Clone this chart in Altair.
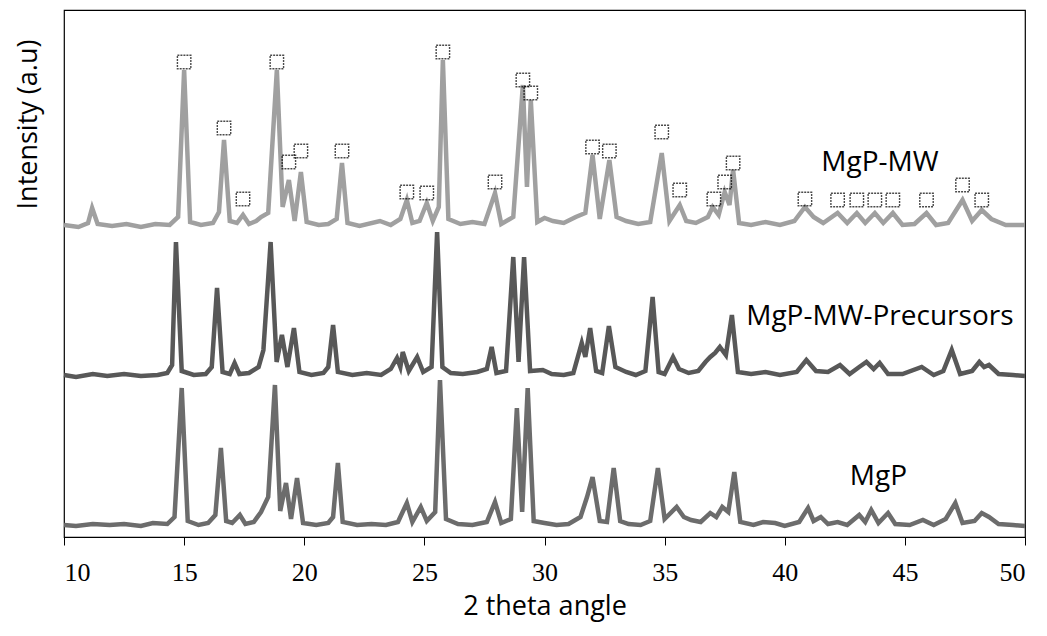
import altair as alt
import pandas as pd

# ---- data (2θ in degrees, intensity above each trace's baseline, a.u.) ----
tt_mw = [10.0, 10.6, 11.0, 11.17, 11.4, 12.0, 12.6, 13.2, 13.8, 14.4, 14.75, 15.0, 15.25, 15.7, 16.2, 16.45,
         16.66, 16.9, 17.2, 17.45, 17.7, 18.0, 18.2, 18.5, 18.86, 19.1, 19.36, 19.6, 19.86, 20.1, 20.6, 21.0,
         21.35, 21.57, 21.8, 22.3, 23.15, 23.6, 24.0, 24.27, 24.5, 24.8, 25.1, 25.35, 25.6, 25.77, 26.0, 26.5,
         27.0, 27.5, 27.94, 28.2, 28.7, 29.1, 29.27, 29.43, 29.7, 30.0, 30.35, 30.8, 31.3, 31.7, 32.0, 32.3,
         32.7, 33.0, 33.4, 33.9, 34.4, 34.88, 35.2, 35.63, 35.9, 36.3, 36.8, 37.0, 37.25, 37.5, 37.7, 37.85,
         38.1, 38.6, 39.2, 39.8, 40.4, 40.84, 41.2, 41.6, 42.2, 42.6, 43.0, 43.35, 43.75, 44.1, 44.5, 44.9,
         45.4, 45.9, 46.3, 46.8, 47.4, 47.8, 48.2, 48.6, 49.2, 50.0]
int_mw = [2, 0, 4, 19, 3, 1, 3, 0, 3, 2, 10, 157, 5, 2, 4, 15,
          87, 6, 4, 12, 3, 6, 10, 14, 157, 20, 47, 6, 55, 5, 2, 3,
          8, 64, 4, 1, 6, 2, 8, 27, 4, 6, 24, 6, 20, 167, 8, 3,
          5, 3, 34, 3, 10, 142, 40, 127, 5, 9, 6, 4, 10, 14, 72, 8,
          67, 10, 6, 3, 5, 74, 6, 22, 6, 4, 10, 20, 12, 35, 22, 57,
          4, 2, 5, 2, 6, 20, 10, 4, 14, 4, 14, 4, 14, 4, 14, 2,
          3, 14, 2, 4, 27, 6, 17, 8, 2, 2]

tt_pre = [10.0, 10.5, 11.2, 11.8, 12.5, 13.2, 13.9, 14.3, 14.5, 14.66, 14.9, 15.4, 15.9, 16.15, 16.37, 16.6,
          16.9, 17.1, 17.3, 17.7, 18.1, 18.3, 18.6, 18.85, 19.07, 19.3, 19.57, 19.8, 20.3, 20.8, 21.0, 21.2,
          21.4, 22.0, 22.6, 23.2, 23.6, 23.86, 24.0, 24.1, 24.35, 24.7, 24.95, 25.3, 25.53, 25.75, 26.1, 26.6,
          27.2, 27.6, 27.8, 28.0, 28.4, 28.7, 28.92, 29.15, 29.4, 29.93, 30.3, 30.8, 31.2, 31.55, 31.7, 31.9,
          32.15, 32.4, 32.68, 32.95, 33.4, 33.8, 34.2, 34.5, 34.75, 35.0, 35.35, 35.6, 36.0, 36.4, 36.7, 36.9,
          37.1, 37.3, 37.55, 37.8, 38.05, 38.6, 39.2, 39.8, 40.5, 40.9, 41.3, 41.8, 42.3, 42.7, 43.1, 43.4,
          43.7, 43.95, 44.3, 44.9, 45.7, 46.2, 46.6, 46.95, 47.3, 47.8, 48.1, 48.3, 48.5, 48.9, 49.5, 50.0]
int_pre = [2, 0, 3, 1, 3, 1, 2, 4, 12, 135, 6, 2, 3, 10, 89, 5,
           3, 14, 3, 4, 10, 27, 135, 15, 42, 10, 49, 5, 2, 4, 10, 52,
           5, 2, 4, 2, 8, 19, 10, 25, 6, 20, 5, 10, 145, 10, 4, 3,
           5, 8, 30, 4, 6, 120, 15, 120, 6, 7, 3, 2, 4, 34, 20, 49,
           6, 4, 51, 10, 5, 2, 6, 80, 5, 3, 20, 8, 4, 6, 15, 20,
           24, 30, 22, 62, 5, 3, 5, 2, 5, 17, 6, 5, 12, 3, 10, 15,
           8, 14, 3, 3, 10, 2, 6, 27, 3, 6, 15, 10, 12, 3, 2, 1]

tt_mgp = [10.0, 10.5, 11.2, 11.9, 12.5, 13.2, 13.7, 14.3, 14.6, 14.9, 15.15, 15.6, 16.0, 16.3, 16.53, 16.75,
          17.0, 17.32, 17.55, 17.9, 18.2, 18.5, 18.78, 19.0, 19.24, 19.45, 19.7, 19.95, 20.5, 21.0, 21.2, 21.4,
          21.6, 22.2, 22.8, 23.4, 23.9, 24.27, 24.5, 24.85, 25.1, 25.45, 25.65, 25.9, 26.4, 27.0, 27.6, 27.94,
          28.2, 28.6, 28.85, 29.07, 29.3, 29.55, 30.0, 30.5, 31.0, 31.5, 31.77, 32.0, 32.3, 32.6, 32.88, 33.15,
          33.5, 34.0, 34.4, 34.72, 35.0, 35.5, 35.8, 36.1, 36.5, 36.9, 37.15, 37.4, 37.65, 37.9, 38.15, 38.7,
          39.1, 39.6, 40.0, 40.6, 40.97, 41.2, 41.5, 41.8, 42.2, 42.6, 43.1, 43.35, 43.6, 43.9, 44.3, 44.6,
          45.2, 45.75, 46.2, 46.7, 47.1, 47.4, 47.9, 48.2, 48.5, 48.9, 49.5, 50.0]
int_mgp = [2, 1, 3, 2, 3, 1, 4, 3, 10, 139, 6, 2, 4, 12, 79, 6,
           4, 12, 3, 5, 15, 30, 142, 16, 44, 8, 49, 4, 2, 4, 10, 64,
           5, 2, 3, 2, 5, 24, 5, 20, 6, 15, 147, 8, 3, 2, 5, 25,
           4, 8, 119, 15, 139, 6, 4, 2, 3, 10, 30, 50, 6, 5, 59, 6,
           3, 2, 6, 59, 8, 20, 10, 7, 5, 14, 10, 20, 15, 55, 5, 2,
           5, 4, 1, 5, 19, 6, 10, 3, 5, 2, 12, 5, 17, 4, 14, 3,
           2, 7, 2, 8, 24, 4, 6, 14, 10, 3, 2, 1]

# marker squares over the MgP-MW peaks
sq_tt = [15.0, 16.66, 17.45, 18.86, 19.36, 19.86, 21.57, 24.27, 25.1, 25.77, 27.94, 29.1, 29.43, 32.0,
         32.7, 34.88, 35.63, 37.05, 37.5, 37.85, 40.84, 42.2, 43.0, 43.75, 44.5, 45.9, 47.4, 48.2]
sq_int = [165, 99, 28, 165, 65, 76, 76, 35, 34, 175, 45, 147, 134, 80,
          76, 95, 37, 28, 45, 64, 28, 27, 27, 27, 27, 27, 42, 27]

series_names = ["MgP-MW", "MgP-MW-Precursors", "MgP"]
series_offsets = [310, 160, 10]
series_colors = ["#a0a0a0", "#585858", "#6c6c6c"]

label_tt = [43.96, 43.96, 43.9]
label_int = [374, 220, 60]

# ---- build tables ----
rows = []
for name, off, xs, ys in zip(series_names, series_offsets,
                             [tt_mw, tt_pre, tt_mgp], [int_mw, int_pre, int_mgp]):
    for i, (x, y) in enumerate(zip(xs, ys)):
        rows.append({"series": name, "order": i, "tt": x, "val": y + off})
lines_df = pd.DataFrame(rows)

sq_df = pd.DataFrame({"tt": sq_tt, "val": [v + series_offsets[0] for v in sq_int]})
lab_df = pd.DataFrame({"label": series_names, "tt": label_tt, "val": label_int})

W, H = 961, 527
xscale = alt.Scale(domain=[10, 50], nice=False, zero=False)
yscale = alt.Scale(domain=[0, H], nice=False, zero=False)

x_axis = alt.Axis(values=[10, 15, 20, 25, 30, 35, 40, 45, 50], grid=False, domain=False,
                  tickColor="black", tickSize=8, tickWidth=1,
                  labelFont="Liberation Serif", labelFontSize=26, labelColor="black",
                  labelPadding=14, title="2 theta angle", titleFont="Open Sans",
                  titleFontSize=27, titleFontWeight="normal", titleColor="black", titlePadding=8)
y_axis = alt.Axis(labels=False, ticks=False, domain=False, grid=False,
                  title="Intensity (a.u)", titleFont="Open Sans", titleFontSize=27,
                  titleFontWeight="normal", titleColor="black",
                  titleX=-36, titleY=114, titleAngle=-90, titleAlign="center",
                  titleBaseline="middle")

lines = alt.Chart(lines_df).mark_line(strokeWidth=4.5, interpolate="linear").encode(
    x=alt.X("tt:Q", scale=xscale, axis=x_axis),
    y=alt.Y("val:Q", scale=yscale, axis=y_axis),
    color=alt.Color("series:N", scale=alt.Scale(domain=series_names, range=series_colors), legend=None),
    detail="series:N",
    order="order:Q",
)

squares = alt.Chart(sq_df).mark_point(shape="square", filled=False, size=180,
                                      stroke="black", strokeWidth=1.4,
                                      strokeDash=[2, 1]).encode(
    x=alt.X("tt:Q", scale=xscale),
    y=alt.Y("val:Q", scale=yscale),
)

labels = alt.Chart(lab_df).mark_text(font="Open Sans", fontSize=28, color="black",
                                     align="center", baseline="middle").encode(
    x=alt.X("tt:Q", scale=xscale),
    y=alt.Y("val:Q", scale=yscale),
    text="label:N",
)

chart = alt.layer(lines, squares, labels).properties(
    width=W, height=H,
    autosize=alt.AutoSizeParams(type="none"),
    padding={"left": 64, "top": 10, "right": 22, "bottom": 99},
    background="white",
).configure_view(stroke="black", strokeWidth=1.2)

chart.save("out.html", embed_options={"renderer": "svg", "actions": False})
